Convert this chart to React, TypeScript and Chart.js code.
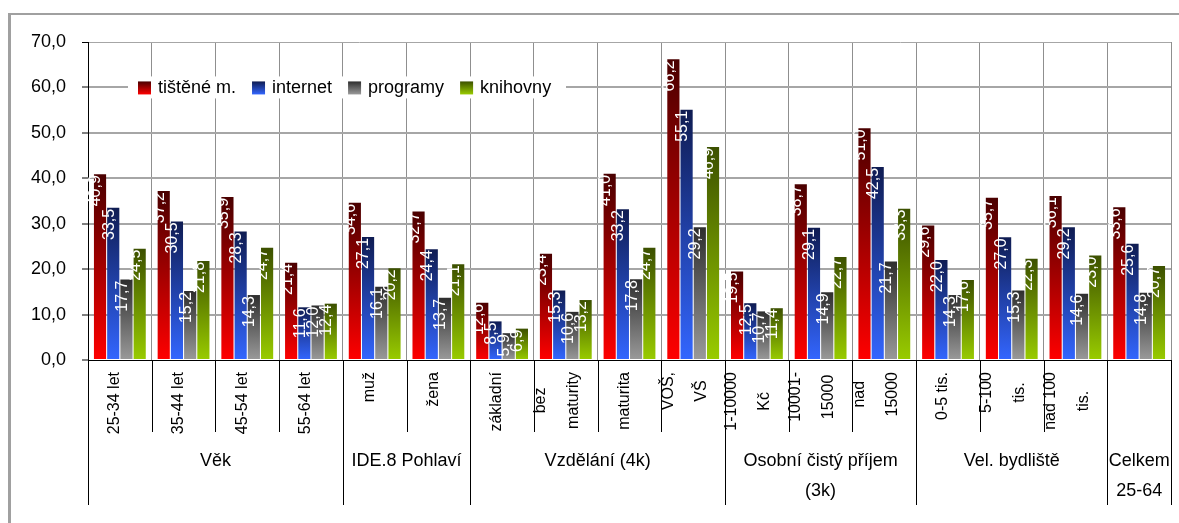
import React, { useEffect, useRef } from "react";
import { Chart, registerables } from "chart.js";

Chart.register(...registerables);

// ---------- data ----------
const categoryLabels: string[][] = [
  ["25-34 let"], ["35-44 let"], ["45-54 let"], ["55-64 let"],
  ["muž"], ["žena"],
  ["základní"], ["bez", "maturity"], ["maturita"], ["VOŠ,", "VŠ"],
  ["1-10000", "Kč"], ["10001-", "15000"], ["nad", "15000"],
  ["0-5 tis."], ["5-100", "tis."], ["nad 100", "tis."],
  [""],
];
const groupLabels: string[][] = [
  ["Věk"], ["IDE.8 Pohlaví"], ["Vzdělání (4k)"],
  ["Osobní čistý příjem", "(3k)"], ["Vel. bydliště"], ["Celkem", "25-64"],
];
const groupSizes = [4, 2, 4, 3, 3, 1];
const seriesNames = ["tištěné m.", "internet", "programy", "knihovny"];
const tistene = [40.9, 37.2, 35.9, 21.4, 34.6, 32.7, 12.6, 23.4, 41.0, 66.2, 19.5, 38.7, 51.0, 29.6, 35.7, 36.1, 33.6];
const internet = [33.5, 30.5, 28.3, 11.6, 27.1, 24.4, 8.5, 15.3, 33.2, 55.1, 12.5, 29.1, 42.5, 22.0, 27.0, 29.2, 25.6];
const programy = [17.7, 15.2, 14.3, 12.0, 16.1, 13.7, 5.9, 10.6, 17.8, 29.2, 10.7, 14.9, 21.7, 14.3, 15.3, 14.6, 14.8];
const knihovny = [24.5, 21.8, 24.7, 12.4, 20.2, 21.1, 6.9, 13.2, 24.7, 46.9, 11.4, 22.7, 33.3, 17.6, 22.3, 23.0, 20.7];
const yMin = 0;
const yMax = 70;
const yStep = 10;

const seriesData = [tistene, internet, programy, knihovny];
const gradTop = ["#4a0000", "#0f1c52", "#2e2e2e", "#3c5000"];
const gradBottom = ["#ff0000", "#3366ff", "#9a9a9a", "#99cc00"];

const FONT = "'Liberation Sans', Arial, sans-serif";
const fmt = (v: number) => v.toFixed(1).replace(".", ",");

const decorPlugin = {
  id: "decor",
  beforeDraw(chart: any) {
    const ctx = chart.ctx;
    ctx.save();
    ctx.fillStyle = "#ffffff";
    ctx.fillRect(0, 0, chart.width, chart.height);
    ctx.fillStyle = "#a0a0a0";
    ctx.fillRect(8, 13, chart.width - 8, 2);
    ctx.fillRect(8, 13, 3, chart.height - 13);
    ctx.restore();
  },
  afterDatasetsDraw(chart: any) {
    const ctx = chart.ctx;
    ctx.save();
    ctx.fillStyle = "#ffffff";
    ctx.font = `16px ${FONT}`;
    ctx.textAlign = "right";
    ctx.textBaseline = "middle";
    chart.data.datasets.forEach((ds: any, i: number) => {
      const meta = chart.getDatasetMeta(i);
      meta.data.forEach((el: any, j: number) => {
        ctx.save();
        ctx.translate(el.x - 4, el.y + 1);
        ctx.rotate(-Math.PI / 2);
        ctx.fillText(fmt(ds.data[j]), 0, 0);
        ctx.restore();
      });
    });
    ctx.restore();
  },
  afterDraw(chart: any) {
    const ctx = chart.ctx;
    const xs = chart.scales.x;
    const area = chart.chartArea;
    const n = categoryLabels.length;
    const w = (area.right - area.left) / n;
    const axisY = area.bottom;
    ctx.save();
    // separators
    ctx.strokeStyle = "#000";
    ctx.lineWidth = 1;
    const groupEdges = new Set<number>();
    let acc = 0;
    groupEdges.add(0);
    groupSizes.forEach((s) => { acc += s; groupEdges.add(acc); });
    for (let b = 0; b <= n; b++) {
      const x = Math.round(area.left + b * w) + 0.5;
      ctx.beginPath();
      ctx.moveTo(x, axisY);
      ctx.lineTo(x, groupEdges.has(b) ? 505 : 432);
      ctx.stroke();
    }
    // category labels (rotated)
    ctx.fillStyle = "#000";
    ctx.font = `16px ${FONT}`;
    ctx.textAlign = "center";
    ctx.textBaseline = "middle";
    categoryLabels.forEach((lines, i) => {
      const cx = xs.getPixelForTick(i);
      const widths = lines.map((l) => ctx.measureText(l).width);
      const block = Math.max(...widths);
      const cy = 372 + block / 2;
      const xPos = lines.length === 1 ? [cx - 5] : [cx - 25, cx + 8];
      lines.forEach((l, k) => {
        ctx.save();
        ctx.translate(xPos[k], cy);
        ctx.rotate(-Math.PI / 2);
        ctx.fillText(l, 0, 0);
        ctx.restore();
      });
    });
    // group labels
    ctx.font = `18px ${FONT}`;
    let start = 0;
    groupLabels.forEach((lines, g) => {
      const x0 = area.left + start * w;
      const x1 = area.left + (start + groupSizes[g]) * w;
      const cx = (x0 + x1) / 2;
      lines.forEach((l, k) => ctx.fillText(l, cx, 461 + k * 30));
      start += groupSizes[g];
    });
    // legend
    const ly = chart.scales.y.getPixelForValue(60);
    ctx.fillStyle = "#fff";
    ctx.fillRect(128, ly - 11, 438, 22);
    ctx.font = `18px ${FONT}`;
    ctx.textAlign = "left";
    let lx = 138;
    seriesNames.forEach((name, i) => {
      const g = ctx.createLinearGradient(0, ly - 6, 0, ly + 7);
      g.addColorStop(0, gradTop[i]);
      g.addColorStop(1, gradBottom[i]);
      ctx.fillStyle = g;
      ctx.fillRect(lx, ly - 6, 13, 13);
      ctx.fillStyle = "#000";
      ctx.fillText(name, lx + 20, ly + 1);
      lx += 20 + ctx.measureText(name).width + 16;
    });
    ctx.restore();
  },
};

export default function App() {
  const ref = useRef<HTMLCanvasElement | null>(null);
  useEffect(() => {
    if (!ref.current) return;
    const chart = new Chart(ref.current, {
      type: "bar",
      data: {
        labels: categoryLabels.map((l) => l.join(" ")),
        datasets: seriesNames.map((name, i) => ({
          label: name,
          data: seriesData[i],
          borderWidth: 0,
          backgroundColor: (c: any) => {
            const ch = c.chart;
            const y = ch.scales && ch.scales.y;
            if (!y || c.raw === undefined) return gradBottom[i];
            const top = y.getPixelForValue(c.raw);
            const bottom = y.getPixelForValue(0);
            if (!isFinite(top) || !isFinite(bottom) || top === bottom) return gradBottom[i];
            const g = ch.ctx.createLinearGradient(0, top, 0, bottom);
            g.addColorStop(0, gradTop[i]);
            g.addColorStop(1, gradBottom[i]);
            return g;
          },
          categoryPercentage: 0.83,
          barPercentage: 0.92,
        })),
      },
      options: {
        responsive: false,
        animation: false,
        devicePixelRatio: 1,
        layout: { padding: { left: 0, top: 42, right: 8, bottom: 0 } },
        plugins: { legend: { display: false }, tooltip: { enabled: false } },
        scales: {
          x: {
            ticks: { display: false },
            grid: {
              offset: true,
              drawTicks: false,
              color: (c: any) => (c.index === 0 ? "rgba(0,0,0,0)" : "#8f8f8f"),
              lineWidth: 1,
            },
            border: { display: true, color: "#000", width: 1 },
            afterFit: (s: any) => { s.height = 163; },
          },
          y: {
            min: yMin,
            max: yMax,
            ticks: {
              stepSize: yStep,
              color: "#000",
              padding: 16,
              font: { family: FONT, size: 18 },
              callback: (v: any) => fmt(Number(v)),
            },
            grid: {
              color: (c: any) => (c.tick && c.tick.value === yMin ? "rgba(0,0,0,0)" : "#a6a6a6"),
              lineWidth: (c: any) => (c.tick && c.tick.value === yMax ? 1 : 2),
              tickLength: 6,
              tickColor: "#000",
              tickWidth: 1,
            },
            border: { display: true, color: "#000", width: 1 },
            afterFit: (s: any) => { s.width = 88; },
          },
        },
      },
      plugins: [decorPlugin],
    });
    return () => chart.destroy();
  }, []);
  return (
    <div style={{ position: "absolute", left: 0, top: 0, width: 1179, height: 523, background: "#fff" }}>
      <canvas ref={ref} width={1179} height={523} style={{ width: 1179, height: 523, display: "block" }} />
    </div>
  );
}
